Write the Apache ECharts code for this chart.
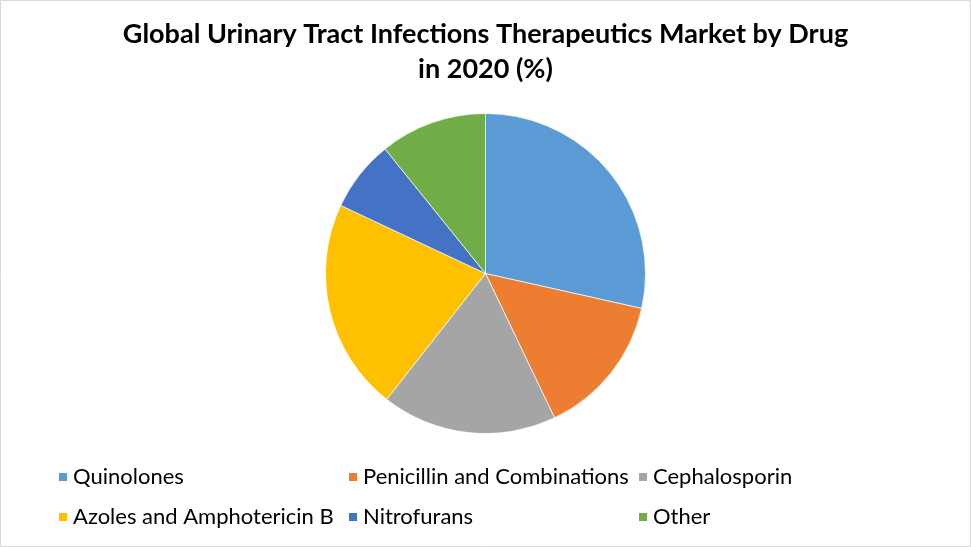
<!DOCTYPE html>
<html><head><meta charset="utf-8">
<script src="https://cdn.jsdelivr.net/npm/echarts@6/dist/echarts.min.js"></script>
<style>html,body{margin:0;padding:0;background:#fff}#c{width:971px;height:547px}</style>
</head><body><div id="c"></div>
<script>
const categories = ['Quinolones','Penicillin and Combinations','Cephalosporin','Azoles and Amphotericin B','Nitrofurans','Other'];
const values = [28.5, 14.4, 17.7, 21.4, 7.2, 10.8];
const colors = ['#5B9BD5','#ED7D31','#A5A5A5','#FFC000','#4472C4','#70AD47'];
const titleText = 'Global Urinary Tract Infections Therapeutics Market by Drug\nin 2020 (%)';

const chart = echarts.init(document.getElementById('c'));
const legendText = {fontFamily:'Lato', fontSize:22, color:'#000'};
const colX = [52, 342, 632];
const rowY = [473, 513];
const legends = categories.map((n,i)=>({
  data:[n], left:colX[i%3], top:rowY[Math.floor(i/3)]-12, height:24,
  itemWidth:10,itemHeight:10,itemGap:0,icon:'rect',textStyle:legendText,selectedMode:false
}));
chart.setOption({
  animation:false,
  title:{text:titleText,left:'center',top:12,textStyle:{fontFamily:'Lato',fontWeight:'bold',fontSize:27,lineHeight:35,color:'#000'}},
  legend:legends,
  graphic:[{type:'rect',shape:{x:0.5,y:0.5,width:970,height:546},style:{fill:'none',stroke:'#d9d9d9',lineWidth:1}}],
  series:[{
    type:'pie',center:[485.5,273.5],radius:160,startAngle:90,clockwise:true,
    label:{show:false},labelLine:{show:false},
    itemStyle:{borderColor:'#fff',borderWidth:0.7},
    emphasis:{disabled:true},
    data:categories.map((n,i)=>({name:n,value:values[i],itemStyle:{color:colors[i]}}))
  }]
});
</script></body></html>
